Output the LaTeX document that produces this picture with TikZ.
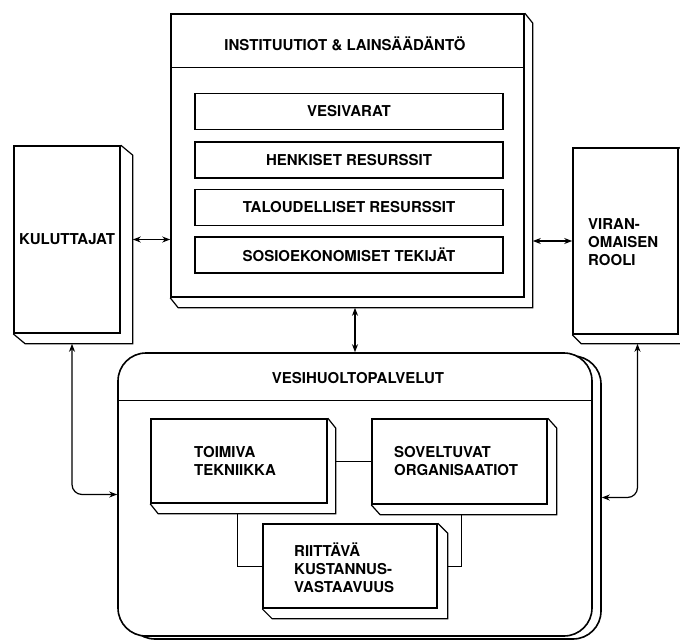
\documentclass[tikz,border=0pt]{standalone}
\usepackage{fontspec}
\setmainfont{TeX Gyre Heros}
\usetikzlibrary{calc,arrows.meta}
\tikzset{
  front/.style={draw, line width=1.6pt, fill=white, inner sep=0pt},
  depth/.style={line width=1.2pt, line join=miter},
  lbl/.style={font=\bfseries\fontsize{15}{18}\selectfont, align=left, inner sep=0pt},
  inbox/.style={front, minimum width=308pt, minimum height=36pt, font=\bfseries\fontsize{15}{18}\selectfont},
  conn/.style={line width=1.2pt, {Stealth[length=8pt,width=6pt]}-{Stealth[length=8pt,width=6pt]}},
  link/.style={line width=1pt}
}
\newcommand\extr[3]{\draw[depth] (#1.north east) -- ++(#2,#3) |- ($(#1.south west)+(#2,#3)$) -- (#1.south west);}
\begin{document}
\begin{tikzpicture}[x=1pt,y=-1pt]
\useasboundingbox (0,0) rectangle (680,640);

% top box
\node[front, minimum width=353pt, minimum height=283pt] (top) at (347.5,155.5) {};
\extr{top}{8}{10}
\draw[line width=1.2pt] ($(top.north west)+(0,54)$) -- ($(top.north east)+(0,54)$);
\node[lbl] (topt) at (345,44) {INSTITUUTIOT \& LAINSÄÄDÄNTÖ};
\node[inbox] (r1) at (349,111.5) {VESIVARAT};
\node[inbox] (r2) at (349,160) {HENKISET RESURSSIT};
\node[inbox] (r3) at (349,207.5) {TALOUDELLISET RESURSSIT};
\node[inbox] (r4) at (349,255) {SOSIOEKONOMISET TEKIJÄT};

% side boxes
\node[front, minimum width=106pt, minimum height=187pt, lbl] (kul) at (67,239.5) {KULUTTAJAT};
\extr{kul}{12}{10}
\node[front, minimum width=105pt, minimum height=186pt] (vir) at (625.5,241) {};
\extr{vir}{9}{9}
\node[lbl, anchor=west] (virt) at (588,242) {VIRAN-\\OMAISEN\\ROOLI};

% rounded box
\node[draw, line width=1.6pt, fill=white, rounded corners=28pt, minimum width=474pt, minimum height=283pt] (vesis) at (364,497.5) {};
\node[draw, line width=1.6pt, fill=white, rounded corners=28pt, minimum width=474pt, minimum height=283pt] (vesi) at (355,494.5) {};
\draw[line width=1.2pt] ($(vesi.north west)+(0,48)$) -- ($(vesi.north east)+(0,48)$);
\node[lbl] (vesit) at (358,378) {VESIHUOLTOPALVELUT};

% inner boxes
\node[front, minimum width=176pt, minimum height=84pt] (toi) at (239,461) {};
\extr{toi}{8}{10}
\node[lbl, anchor=west] (toit) at (194,461) {TOIMIVA\\TEKNIIKKA};
\node[front, minimum width=175pt, minimum height=85pt] (sov) at (459.5,461.5) {};
\extr{sov}{9}{10}
\node[lbl, anchor=west] (sovt) at (394,461.5) {SOVELTUVAT\\ORGANISAATIOT};
\node[front, minimum width=174pt, minimum height=84pt] (rii) at (350,566) {};
\extr{rii}{10}{10}
\node[lbl, anchor=west] (riit) at (294,568) {RIITTÄVÄ\\KUSTANNUS-\\VASTAAVUUS};

% coordinates for depth edges
\coordinate (kulE) at ($(kul.east)+(12,0)$);
\coordinate (topR) at ($(top.north east)+(8,0)$);
\coordinate (topB) at ($(top.south)+(0,10)$);
\coordinate (kulB) at ($(kul.south)+(5,10)$);
\coordinate (virB) at ($(vir.south)+(12,9)$);
\coordinate (toiR) at ($(toi.north east)+(8,0)$);
\coordinate (toiB) at ($(toi.south)+(-2,10)$);
\coordinate (sovB) at ($(sov.south)+(1.5,10)$);
\coordinate (riiR) at ($(rii.east)+(10,0)$);

% connectors
\draw[conn] (kulE) -- (kulE -| top.west);
\draw[conn] (vir.west -| topR) -- (vir.west);
\draw[conn] (vesi.north |- topB) -- (vesi.north);
\draw[conn, rounded corners=10pt] (kulB) |- (vesi.west);
\draw[conn, rounded corners=10pt] (virB) |- (vesis.east);

\draw[link] (sov.west -| toiR) -- (sov.west);
\draw[link] (toiB) |- (rii.west);
\draw[link] (sovB) |- (riiR);
\end{tikzpicture}
\end{document}
